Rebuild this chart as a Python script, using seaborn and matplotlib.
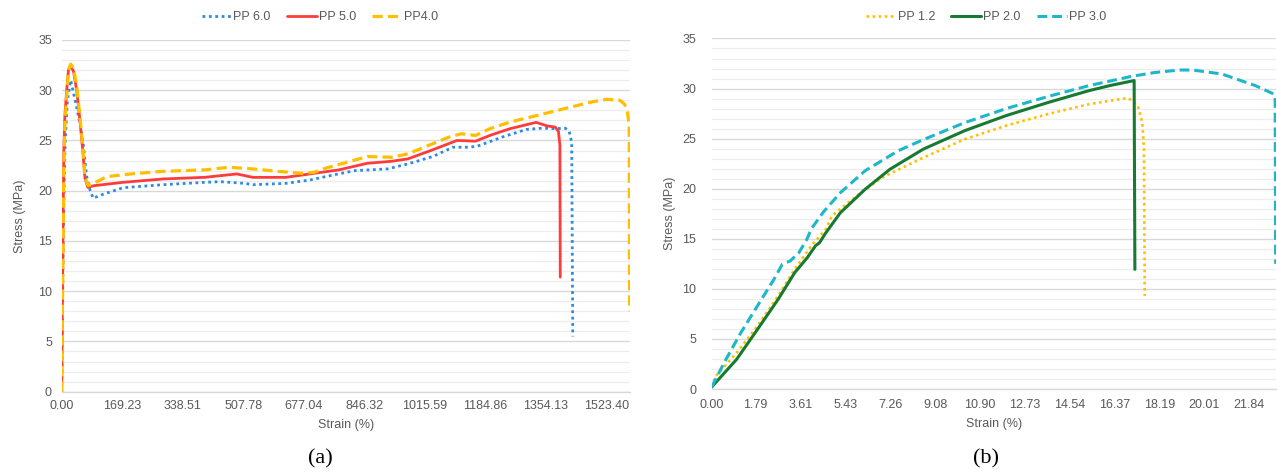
import matplotlib
matplotlib.use("Agg")
import matplotlib.pyplot as plt
import numpy as np
import pandas as pd
import seaborn as sns
from matplotlib.ticker import FixedLocator, MultipleLocator

# ---------------- Panel (a): stress-strain curves, PP 6.0 / 5.0 / 4.0 ----------------
pp60_strain = [0, 2, 4, 7, 10, 16, 25, 32, 42, 51, 60, 70, 79, 88, 112, 172, 284, 398,
               443, 512, 535, 627, 695, 764, 821, 912, 969, 1038, 1095, 1140, 1163,
               1232, 1300, 1346, 1381, 1409, 1420, 1427, 1430]
pp60_stress = [0, 7, 14, 21, 25, 29, 31.0, 29.9, 28.3, 26.7, 24.7, 21.4, 20.1, 19.25, 19.6,
               20.3, 20.6, 20.83, 20.9, 20.73, 20.6, 20.73, 21.07, 21.6, 22.0, 22.17, 22.67,
               23.4, 24.33, 24.33, 24.43, 25.33, 26.1, 26.23, 26.17, 26.23, 25.9, 24.8, 5.5]

pp50_strain = [0, 2, 4, 6, 9, 14, 19, 25, 33, 42, 51, 59, 65, 73, 90, 170, 284, 399, 490,
               535, 627, 706, 775, 855, 923, 969, 1038, 1106, 1158, 1198, 1254, 1312, 1328,
               1358, 1381, 1390, 1394, 1395]
pp50_stress = [0, 9, 17, 24, 27.5, 30.0, 32.0, 32.4, 31.9, 30.0, 27.0, 24.0, 21.3, 20.33,
               20.5, 20.83, 21.17, 21.33, 21.67, 21.33, 21.33, 21.73, 22.07, 22.73, 22.93,
               23.17, 24.07, 25.0, 24.93, 25.5, 26.17, 26.67, 26.8, 26.45, 26.33, 25.9, 24.5, 11.4]

pp40_strain = [0, 2, 4, 6, 9, 14, 19, 25, 33, 42, 51, 59, 65, 74, 88, 126, 193, 284, 399,
               467, 535, 604, 672, 706, 741, 798, 855, 923, 969, 1026, 1083, 1118, 1158,
               1198, 1254, 1312, 1369, 1425, 1483, 1524, 1562, 1575, 1583, 1588, 1589]
pp40_stress = [0, 8, 15, 22, 26.5, 29.4, 32.0, 32.6, 32.2, 30.4, 27.4, 24.4, 21.4, 20.5,
               20.7, 21.4, 21.67, 21.93, 22.07, 22.33, 22.17, 21.93, 21.73, 21.83, 22.27,
               22.83, 23.4, 23.33, 23.67, 24.5, 25.33, 25.67, 25.5, 26.17, 26.83, 27.33,
               27.83, 28.33, 28.83, 29.1, 29.0, 28.6, 27.8, 26.5, 8.0]

a_tick_labels = ["0.00", "169.23", "338.51", "507.78", "677.04", "846.32",
                 "1015.59", "1184.86", "1354.13", "1523.40"]
a_series = ["PP 6.0", "PP 5.0", "PP4.0"]

# ---------------- Panel (b): stress-strain curves, PP 1.2 / 2.0 / 3.0 ----------------
pp12_strain = [0.0, 0.17, 1.01, 1.86, 2.70, 3.37, 4.05, 4.64, 4.89, 5.90, 6.91, 8.60,
               10.29, 11.97, 13.66, 15.35, 16.87, 17.12, 17.34, 17.50, 17.57, 17.60]
pp12_stress = [0.2, 1.3, 3.6, 6.3, 9.3, 11.95, 14.3, 15.95, 17.3, 19.3, 21.1, 23.1,
               24.95, 26.3, 27.45, 28.45, 29.05, 28.8, 28.1, 26.6, 24.0, 9.3]

pp20_strain = [0.0, 1.01, 1.86, 2.70, 3.37, 3.88, 4.22, 4.38, 4.64, 5.23, 6.24, 7.25,
               8.60, 10.29, 11.97, 13.66, 15.35, 16.19, 17.17, 17.20]
pp20_stress = [0.2, 2.95, 5.95, 8.95, 11.6, 13.1, 14.3, 14.6, 15.6, 17.6, 19.95, 21.95,
               23.95, 25.8, 27.3, 28.6, 29.8, 30.3, 30.8, 11.95]

pp30_strain = [0.0, 0.5, 1.18, 1.86, 2.53, 2.87, 3.20, 3.54, 3.88, 4.05, 4.55, 5.23,
               6.24, 7.59, 8.60, 10.29, 11.97, 13.66, 15.35, 17.03, 18.00, 19.00, 19.56,
               20.74, 22.09, 22.85, 22.90, 22.92]
pp30_stress = [0.2, 2.6, 5.6, 8.3, 10.95, 12.45, 12.8, 13.6, 15.0, 16.0, 17.7, 19.6,
               21.8, 23.8, 24.9, 26.6, 28.0, 29.2, 30.3, 31.2, 31.6, 31.85, 31.85,
               31.45, 30.3, 29.45, 29.2, 12.5]

b_tick_labels = ["0.00", "1.79", "3.61", "5.43", "7.26", "9.08", "10.90", "12.73",
                 "14.54", "16.37", "18.19", "20.01", "21.84"]
b_series = ["PP 1.2", "PP 2.0", "PP 3.0"]

# ---------------- styling ----------------
sns.set_theme(style="white")
plt.rcParams["font.family"] = ["Liberation Sans", "DejaVu Sans"]
TEXT = "#595959"
GRID_MAJOR = "#D9D9D9"
GRID_MINOR = "#EDEDED"

fig = plt.figure(figsize=(12.77, 4.75), dpi=100)
ax_a = fig.add_axes([0.0483, 0.1754, 0.4450, 0.7404])
ax_b = fig.add_axes([0.5573, 0.1810, 0.4422, 0.7380])


def draw(ax, x, y, label, color, ls, lw):
    df = pd.DataFrame({"Strain (%)": x, "Stress (MPa)": y})
    sns.lineplot(data=df, x="Strain (%)", y="Stress (MPa)", ax=ax, estimator=None,
                 sort=False, color=color, linestyle=ls, linewidth=lw, label=label)


draw(ax_a, pp60_strain, pp60_stress, a_series[0], "#2B8AE6", (0, (1, 1.3)), 2.0)
draw(ax_a, pp50_strain, pp50_stress, a_series[1], "#FF3B3B", "-", 2.0)
draw(ax_a, pp40_strain, pp40_stress, a_series[2], "#FFBF00", (0, (3.2, 1.6)), 2.3)

draw(ax_b, pp12_strain, pp12_stress, b_series[0], "#FFC000", (0, (1, 1.3)), 1.9)
draw(ax_b, pp20_strain, pp20_stress, b_series[1], "#167A32", "-", 2.2)
draw(ax_b, pp30_strain, pp30_stress, b_series[2], "#1DB7C9", (0, (3.2, 1.6)), 2.2)


def style_axes(ax, xmax, tick_labels, ypad, xpad):
    ax.set_ylim(0, 35)
    ax.set_xlim(0, xmax)
    ax.yaxis.set_major_locator(MultipleLocator(5))
    ax.yaxis.set_minor_locator(MultipleLocator(1))
    ax.grid(axis="y", which="major", color=GRID_MAJOR, linewidth=1.0)
    ax.grid(axis="y", which="minor", color=GRID_MINOR, linewidth=0.9)
    ax.grid(axis="x", which="both", visible=False)
    ax.set_axisbelow(True)
    ax.xaxis.set_major_locator(FixedLocator([float(t) for t in tick_labels]))
    ax.set_xticklabels(tick_labels)
    for side in ("top", "right", "left"):
        ax.spines[side].set_visible(False)
    ax.spines["bottom"].set_color(GRID_MAJOR)
    ax.spines["bottom"].set_linewidth(1.0)
    ax.tick_params(axis="y", which="both", length=0, labelsize=9, labelcolor=TEXT, pad=ypad)
    ax.tick_params(axis="x", which="major", length=0, labelsize=9, labelcolor=TEXT, pad=xpad)
    ax.set_xlabel("Strain (%)", fontsize=9, color=TEXT, labelpad=5)
    ax.set_ylabel("Stress (MPa)", fontsize=9, color=TEXT)
    ax.set_facecolor("white")


style_axes(ax_a, 1590, a_tick_labels, ypad=7, xpad=6)
style_axes(ax_b, 22.95, b_tick_labels, ypad=11, xpad=7)

# small axis tick marks on panel (a)
ax_a.xaxis.set_minor_locator(MultipleLocator(130.6))
ax_a.tick_params(axis="x", which="minor", length=3, color=GRID_MAJOR, width=1, direction="in")

ax_a.yaxis.set_label_coords(-0.063, 0.5)
ax_b.yaxis.set_label_coords(-0.063, 0.5)

for ax, cx in ((ax_a, 0.2506), (ax_b, 0.772)):
    ax.legend(loc="center", bbox_to_anchor=(cx, 0.964), bbox_transform=fig.transFigure,
              ncol=3, frameon=False, fontsize=9, handlelength=2.4, handletextpad=0.15,
              columnspacing=1.3, labelcolor=TEXT)

fig.text(0.2506, 0.033, "(a)", ha="center", va="center", fontsize=16,
         family=["Liberation Serif", "DejaVu Serif"], color="black")
fig.text(0.772, 0.033, "(b)", ha="center", va="center", fontsize=16,
         family=["Liberation Serif", "DejaVu Serif"], color="black")

fig.savefig("out.png", dpi=100, facecolor="white")
